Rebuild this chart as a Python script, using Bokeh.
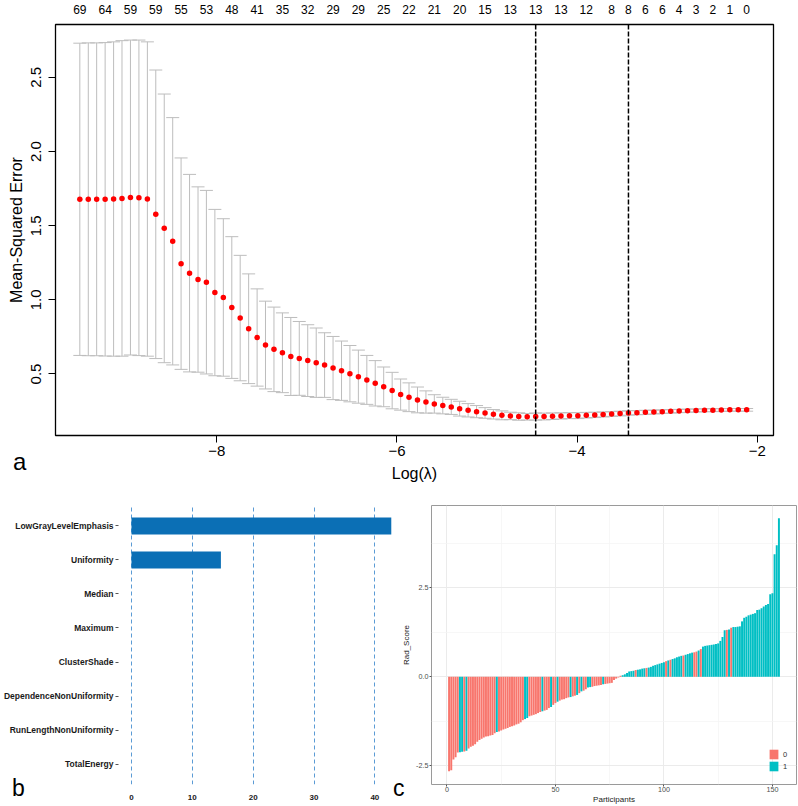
from bokeh.plotting import figure
from bokeh.models import (ColumnDataSource, Whisker, TeeHead, Span, LinearAxis,
                          FixedTicker, Range1d, FactorRange, Div)
from bokeh.layouts import column, row
from bokeh.embed import file_html
from bokeh.resources import INLINE
from bokeh.transform import factor_cmap

FONT = "Liberation Sans"

# ---------------- panel a: cross-validated MSE vs log(lambda) ----------------
log_lambda = [-9.520, -9.426, -9.333, -9.239, -9.145, -9.052, -8.958, -8.864, -8.770, -8.677,
              -8.583, -8.489, -8.396, -8.302, -8.208, -8.115, -8.021, -7.927, -7.833, -7.740,
              -7.646, -7.552, -7.459, -7.365, -7.271, -7.178, -7.084, -6.990, -6.896, -6.803,
              -6.709, -6.615, -6.522, -6.428, -6.334, -6.241, -6.147, -6.053, -5.959, -5.866,
              -5.772, -5.678, -5.585, -5.491, -5.397, -5.304, -5.210, -5.116, -5.022, -4.929,
              -4.835, -4.741, -4.648, -4.554, -4.460, -4.367, -4.273, -4.179, -4.085, -3.992,
              -3.898, -3.804, -3.711, -3.617, -3.523, -3.430, -3.336, -3.242, -3.148, -3.055,
              -2.961, -2.867, -2.774, -2.680, -2.586, -2.493, -2.399, -2.305, -2.211, -2.118]
cv_mean = [1.678, 1.678, 1.678, 1.678, 1.680, 1.684, 1.690, 1.688, 1.680, 1.577,
           1.482, 1.395, 1.244, 1.180, 1.137, 1.119, 1.049, 1.016, 0.948, 0.877,
           0.805, 0.746, 0.695, 0.666, 0.643, 0.618, 0.605, 0.590, 0.576, 0.560,
           0.540, 0.522, 0.502, 0.482, 0.460, 0.437, 0.413, 0.388, 0.361, 0.343,
           0.325, 0.311, 0.298, 0.287, 0.278, 0.266, 0.255, 0.246, 0.237, 0.228,
           0.221, 0.217, 0.213, 0.211, 0.213, 0.213, 0.215, 0.217, 0.219, 0.219,
           0.222, 0.224, 0.227, 0.230, 0.233, 0.237, 0.239, 0.241, 0.243, 0.246,
           0.248, 0.250, 0.252, 0.254, 0.255, 0.256, 0.257, 0.258, 0.258, 0.258]
cv_se = [1.053, 1.055, 1.055, 1.057, 1.060, 1.064, 1.062, 1.064, 1.060, 0.973,
         0.906, 0.834, 0.713, 0.666, 0.625, 0.619, 0.561, 0.531, 0.478, 0.423,
         0.370, 0.328, 0.296, 0.285, 0.269, 0.263, 0.249, 0.242, 0.234, 0.218,
         0.213, 0.200, 0.190, 0.179, 0.165, 0.153, 0.134, 0.123, 0.105, 0.097,
         0.087, 0.075, 0.062, 0.056, 0.051, 0.050, 0.045, 0.041, 0.036, 0.032,
         0.030, 0.025, 0.025, 0.022, 0.024, 0.023, 0.022, 0.021, 0.020, 0.020,
         0.019, 0.018, 0.017, 0.016, 0.016, 0.015, 0.014, 0.014, 0.013, 0.012,
         0.012, 0.011, 0.011, 0.010, 0.010, 0.010, 0.009, 0.009, 0.009, 0.009]
nz_label_idx = [0, 3, 6, 9, 12, 15, 18, 21, 24, 27, 30, 33, 36, 39, 42, 45, 48, 51, 54,
                57, 60, 63, 65, 67, 69, 71, 73, 75, 77, 79]
nz_labels = ["69", "64", "59", "59", "55", "53", "48", "41", "35", "32", "29", "29", "25",
             "22", "21", "20", "15", "13", "13", "13", "12", "8", "8", "6", "6", "4", "3",
             "2", "1", "0"]
idx_lambda_min = 54
idx_lambda_1se = 65
x_ticks_a = [-8, -6, -4, -2]
y_ticks_a = [0.5, 1.0, 1.5, 2.0, 2.5]

# ---------------- panel b: feature importance ----------------
features = ["LowGrayLevelEmphasis", "Uniformity", "Median", "Maximum", "ClusterShade",
            "DependenceNonUniformity", "RunLengthNonUniformity", "TotalEnergy"]
importance = [42.7, 14.7, 0, 0, 0, 0, 0, 0]
x_ticks_b = [0, 10, 20, 30, 40]

# ---------------- panel c: Rad_Score waterfall ----------------
rad_score = [-2.66, -2.63, -2.33, -2.26, -2.13, -2.12, -2.11, -2.10, -2.08, -2.02,
             -1.97, -1.94, -1.90, -1.83, -1.78, -1.74, -1.71, -1.68, -1.67, -1.65,
             -1.64, -1.59, -1.55, -1.54, -1.51, -1.48, -1.46, -1.44, -1.41, -1.39,
             -1.37, -1.34, -1.32, -1.28, -1.22, -1.19, -1.16, -1.11, -1.09, -1.07,
             -1.05, -1.02, -0.99, -0.97, -0.95, -0.93, -0.88, -0.85, -0.79, -0.74,
             -0.70, -0.67, -0.64, -0.63, -0.60, -0.58, -0.57, -0.55, -0.53, -0.51,
             -0.46, -0.41, -0.39, -0.35, -0.30, -0.29, -0.28, -0.26, -0.25, -0.24,
             -0.23, -0.21, -0.20, -0.19, -0.18, -0.17, -0.09, -0.05, -0.02, 0.03,
             0.045, 0.07, 0.11, 0.15, 0.16, 0.17, 0.19, 0.20, 0.21, 0.23,
             0.24, 0.25, 0.26, 0.28, 0.31, 0.33, 0.35, 0.37, 0.39, 0.41,
             0.44, 0.46, 0.48, 0.50, 0.52, 0.55, 0.57, 0.59, 0.60, 0.62,
             0.64, 0.66, 0.68, 0.69, 0.71, 0.74, 0.78, 0.85, 0.87, 0.88,
             0.89, 0.90, 0.91, 0.92, 0.94, 1.01, 1.12, 1.31, 1.32, 1.33,
             1.38, 1.40, 1.40, 1.41, 1.42, 1.56, 1.66, 1.69, 1.73, 1.75,
             1.77, 1.79, 1.88, 1.89, 1.93, 1.98, 2.02, 2.05, 2.32, 2.35,
             3.45, 3.70, 4.46]
group = [0, 0, 0, 0, 0, 1, 1, 0, 1, 0,
         0, 0, 0, 0, 0, 0, 0, 0, 0, 0,
         0, 0, 1, 0, 0, 0, 0, 0, 0, 0,
         0, 0, 0, 0, 0, 1, 1, 0, 0, 0,
         0, 0, 0, 1, 0, 0, 0, 1, 0, 0,
         1, 0, 0, 0, 0, 0, 1, 0, 0, 1,
         0, 1, 0, 0, 1, 1, 0, 0, 0, 0,
         0, 1, 0, 0, 0, 0, 0, 0, 0, 0,
         1, 1, 1, 1, 1, 1, 0, 1, 1, 1,
         1, 0, 1, 1, 1, 1, 1, 1, 1, 1,
         0, 1, 0, 1, 1, 1, 1, 1, 0, 1,
         1, 1, 1, 0, 0, 1, 0, 1, 1, 1,
         1, 1, 1, 1, 1, 1, 1, 1, 0, 1,
         0, 1, 1, 1, 1, 1, 1, 1, 1, 1,
         1, 1, 1, 1, 1, 1, 1, 1, 1, 1,
         1, 1, 1]
group_levels = ["0", "1"]
x_ticks_c = [0, 50, 100, 150]
x_minor_c = [25, 75, 125]
y_ticks_c = [-2.5, 0.0, 2.5]
y_minor_c = [-1.25, 1.25, 3.75]

panel_letters = ["a", "b", "c"]

assert len(log_lambda) == len(cv_mean) == len(cv_se) == 80
assert len(rad_score) == len(group) == 153

BAR_GRAY = "#BDBDBD"

# =============================== panel a ===============================
src_a = ColumnDataSource(dict(
    x=log_lambda, y=cv_mean,
    lo=[m - s for m, s in zip(cv_mean, cv_se)],
    up=[m + s for m, s in zip(cv_mean, cv_se)]))

pa = figure(width=798, height=488, x_range=Range1d(-9.79, -1.82), y_range=Range1d(0.085, 2.857),
            output_backend="svg", toolbar_location=None,
            x_axis_label="Log(λ)", y_axis_label="Mean-Squared Error",
            min_border_left=55, min_border_right=25, min_border_top=24, min_border_bottom=53)
pa.grid.visible = False
pa.outline_line_color = "black"
pa.outline_line_width = 1.3

wh = Whisker(source=src_a, base="x", lower="lo", upper="up", dimension="height",
             line_color=BAR_GRAY, line_width=1,
             upper_head=TeeHead(size=13, line_color=BAR_GRAY, line_width=1),
             lower_head=TeeHead(size=13, line_color=BAR_GRAY, line_width=1))
pa.add_layout(wh)
pa.scatter(x="x", y="y", source=src_a, size=5.5, fill_color="#FF0000", line_color=None)

for idx in (idx_lambda_min, idx_lambda_1se):
    pa.add_layout(Span(location=log_lambda[idx], dimension="height", line_color="black",
                       line_width=1.5, line_dash="5 2"))

xa = pa.xaxis[0]
xa.ticker = FixedTicker(ticks=x_ticks_a)
xa.major_label_overrides = {t: "\u2212" + str(abs(t)) for t in x_ticks_a}
ya = pa.yaxis[0]
ya.ticker = FixedTicker(ticks=y_ticks_a)
ya.major_label_overrides = {t: f"{t:.1f}" for t in y_ticks_a}
ya.major_label_orientation = "vertical"
for ax in (xa, ya):
    ax.axis_line_color = None
    ax.major_tick_out = 7
    ax.major_tick_in = 0
    ax.minor_tick_out = 0
    ax.minor_tick_in = 0
    ax.major_tick_line_color = "black"
    ax.major_label_text_font = FONT
    ax.major_label_text_font_size = "15px"
    ax.major_label_text_color = "black"
    ax.axis_label_text_font = FONT
    ax.axis_label_text_font_size = "16px"
    ax.axis_label_text_font_style = "normal"
    ax.axis_label_text_color = "black"
xa.major_label_standoff = 3
xa.axis_label_standoff = 6
ya.major_label_standoff = 7
ya.axis_label_standoff = 4

top_ticks = [log_lambda[i] for i in nz_label_idx]
top = LinearAxis(ticker=FixedTicker(ticks=top_ticks),
                 major_label_overrides={t: lab for t, lab in zip(top_ticks, nz_labels)},
                 major_tick_out=0, major_tick_in=0, minor_tick_out=0, minor_tick_in=0,
                 axis_line_color=None, major_label_text_font=FONT,
                 major_label_text_font_size="12px", major_label_text_color="black",
                 major_label_standoff=11)
pa.add_layout(top, "above")

# =============================== panel b ===============================
src_b = ColumnDataSource(dict(feat=features, imp=importance))
pb = figure(width=392, height=318,
            y_range=FactorRange(factors=features[::-1], range_padding=0.1,
                                range_padding_units="absolute"),
            x_range=Range1d(-2.13, 42.9),
            output_backend="svg", toolbar_location=None,
            min_border_left=117, min_border_right=0, min_border_top=17, min_border_bottom=20)
pb.outline_line_color = None
pb.hbar(y="feat", right="imp", left=0, height=0.5, source=src_b,
        fill_color="#0B6FB5", line_color=None)
pb.ygrid.visible = False
pb.xgrid.ticker = FixedTicker(ticks=x_ticks_b)
pb.xgrid.grid_line_color = "#5B9BD5"
pb.xgrid.grid_line_dash = "4 3"
pb.xgrid.grid_line_width = 1
xb = pb.xaxis[0]
xb.ticker = FixedTicker(ticks=x_ticks_b)
xb.axis_line_color = None
xb.major_tick_out = 0
xb.major_tick_in = 0
xb.minor_tick_out = 0
xb.minor_tick_in = 0
xb.major_label_standoff = 10
xb.major_label_text_font = FONT
xb.major_label_text_font_size = "8px"
xb.major_label_text_font_style = "bold"
xb.major_label_text_color = "#1a1a1a"
yb = pb.yaxis[0]
yb.axis_line_color = None
yb.major_tick_out = 3
yb.major_tick_in = 0
yb.major_tick_line_color = "#555555"
yb.major_label_standoff = 2
yb.major_label_text_font = FONT
yb.major_label_text_font_size = "8.5px"
yb.major_label_text_font_style = "bold"
yb.major_label_text_color = "#1a1a1a"

# =============================== panel c ===============================
src_c = ColumnDataSource(dict(
    x=list(range(1, len(rad_score) + 1)), score=rad_score,
    cls=[str(g) for g in group]))
pc = figure(width=406, height=318, x_range=Range1d(-7.1, 161.1), y_range=Range1d(-3.03, 4.82),
            output_backend="svg", toolbar_location=None,
            x_axis_label="Participants", y_axis_label="Rad_Score",
            min_border_left=39, min_border_right=2, min_border_top=17, min_border_bottom=20)
pc.outline_line_color = "#9A9A9A"
pc.outline_line_width = 1
pc.vbar(x="x", top="score", bottom=0, width=0.9, source=src_c,
        fill_color=factor_cmap("cls", ["#F8766D", "#00BFC4"], group_levels),
        line_color=None, legend_field="cls")
pc.xgrid.ticker = FixedTicker(ticks=x_ticks_c, minor_ticks=x_minor_c)
pc.ygrid.ticker = FixedTicker(ticks=y_ticks_c, minor_ticks=y_minor_c)
for g in (pc.xgrid[0], pc.ygrid[0]):
    g.grid_line_color = "#EBEBEB"
    g.grid_line_width = 1
    g.minor_grid_line_color = "#F3F3F3"
    g.minor_grid_line_width = 0.7
xc = pc.xaxis[0]
xc.ticker = FixedTicker(ticks=x_ticks_c, minor_ticks=x_minor_c)
yc = pc.yaxis[0]
yc.ticker = FixedTicker(ticks=y_ticks_c, minor_ticks=y_minor_c)
yc.major_label_overrides = {t: f"{t:.1f}" for t in y_ticks_c}
for ax in (xc, yc):
    ax.axis_line_color = None
    ax.major_tick_out = 2
    ax.major_tick_in = 0
    ax.minor_tick_out = 0
    ax.minor_tick_in = 0
    ax.major_tick_line_color = "#555555"
    ax.major_label_standoff = 1
    ax.major_label_text_font = FONT
    ax.major_label_text_font_size = "7.2px"
    ax.major_label_text_color = "#4D4D4D"
    ax.axis_label_text_font = FONT
    ax.axis_label_text_font_size = "8px"
    ax.axis_label_text_font_style = "normal"
    ax.axis_label_text_color = "#1a1a1a"
xc.major_label_standoff = 0
xc.axis_label_standoff = 0
yc.axis_label_standoff = 2
leg = pc.legend[0]
leg.location = (337, 12)
leg.glyph_width = 11
leg.glyph_height = 12
leg.label_height = 12
leg.label_width = 4
leg.spacing = 0
leg.padding = 2
leg.margin = 0
leg.label_standoff = 4
leg.border_line_color = None
leg.background_fill_alpha = 0
leg.label_text_font = FONT
leg.label_text_font_size = "7.5px"
leg.label_text_color = "#333333"


# =============================== panel letters ===============================
def letter(text, left, top, size):
    return Div(text=text, margin=(0, 0, 0, 0),
               styles={"position": "absolute", "left": f"{left}px", "top": f"{top}px",
                       "font-family": FONT, "font-size": f"{size}px",
                       "line-height": f"{size}px", "color": "black", "z-index": "10"})


div_a = letter(panel_letters[0], 13, 450, 24)
div_b = letter(panel_letters[1], 12, 777, 23)
div_c = letter(panel_letters[2], 393, 777, 23)

layout = column(pa, row(pb, pc), div_a, div_b, div_c)
open("out.html", "w").write(file_html(layout, INLINE))
